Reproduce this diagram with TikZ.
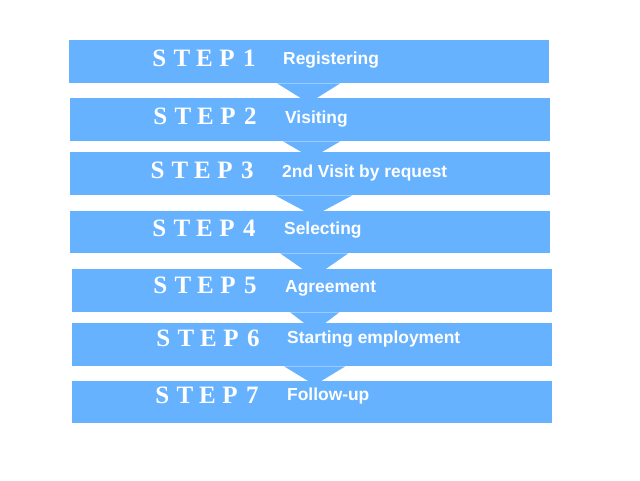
\documentclass[tikz,border=0pt]{standalone}
\usepackage{fontspec}
\setmainfont{Liberation Serif}
\newfontfamily\lblfont{Liberation Sans}
\usetikzlibrary{calc}
\definecolor{stepblue}{RGB}{102,178,255}
\newcommand{\stepcell}[1]{\makebox[22.5pt]{#1}}
\newcommand{\steptext}[1]{\stepcell{S}\stepcell{T}\stepcell{E}\stepcell{P}\stepcell{#1}}
\tikzset{
  stepbox/.style={fill=stepblue, draw=none, minimum width=480pt, minimum height=43pt, inner sep=0pt, anchor=north west},
  arr/.style={fill=stepblue, draw=none},
  steplbl/.style={text=white, font=\fontsize{25}{25}\selectfont\bfseries, inner sep=0pt, anchor=base west},
  desclbl/.style={text=white, font=\fontsize{17.4}{17.4}\selectfont\lblfont\bfseries, inner sep=0pt, anchor=base west}
}
\begin{document}
\begin{tikzpicture}[x=1pt,y=-1pt]
\useasboundingbox (0,0) rectangle (640,480);
\fill[white] (0,0) rectangle (640,480);
% boxes
\node[stepbox] (b1) at (69,40) {};
\node[stepbox] (b2) at (70,98) {};
\node[stepbox] (b3) at (70,152) {};
\node[stepbox, minimum height=42pt] (b4) at (70,211) {};
\node[stepbox] (b5) at (72,269) {};
\node[stepbox] (b6) at (72,323) {};
\node[stepbox, minimum height=42pt] (b7) at (72,381) {};
% arrows (triangles)
\fill[arr] ($(b1.south)+(-32,0)$) -- ($(b1.south)+(31,0)$) -- ($(b2.north)+(-1.5,5)$) -- cycle;
\fill[arr] ($(b2.south)+(-27,0)$) -- ($(b2.south)+(30,0)$) -- ($(b2.north |- b3.north)+(1.5,6)$) -- cycle;
\fill[arr] ($(b3.south)+(-35,0)$) -- ($(b3.south)+(42,0)$) -- ($(b3.north |- b4.north)+(3.5,5)$) -- cycle;
\fill[arr] ($(b4.south)+(-30,0)$) -- ($(b4.south)+(38,0)$) -- ($(b4.north |- b5.north)+(4,8)$) -- cycle;
\fill[arr] ($(b5.south)+(-22,0)$) -- ($(b5.south)+(27,0)$) -- ($(b5.north |- b6.north)+(2.5,8)$) -- cycle;
\fill[arr] ($(b6.south)+(-28,0)$) -- ($(b6.south)+(33,0)$) -- ($(b6.north |- b7.north)+(2.5,4)$) -- cycle;
% step labels
\node[steplbl] (s1) at (148,66) {\steptext{1}};
\node[steplbl] (s2) at (149,124) {\steptext{2}};
\node[steplbl] (s3) at (146,178) {\steptext{3}};
\node[steplbl] (s4) at (148,236) {\steptext{4}};
\node[steplbl] (s5) at (149,293) {\steptext{5}};
\node[steplbl] (s6) at (152,346) {\steptext{6}};
\node[steplbl] (s7) at (151,403) {\steptext{7}};
% descriptions
\node[desclbl] (d1) at (283,64) {Registering};
\node[desclbl] (d2) at (285,123) {Visiting};
\node[desclbl] (d3) at (282,177) {2nd Visit by request};
\node[desclbl] (d4) at (284,234) {Selecting};
\node[desclbl] (d5) at (285,292) {Agreement};
\node[desclbl] (d6) at (287,343) {Starting employment};
\node[desclbl] (d7) at (287,400) {Follow-up};
\end{tikzpicture}
\end{document}
